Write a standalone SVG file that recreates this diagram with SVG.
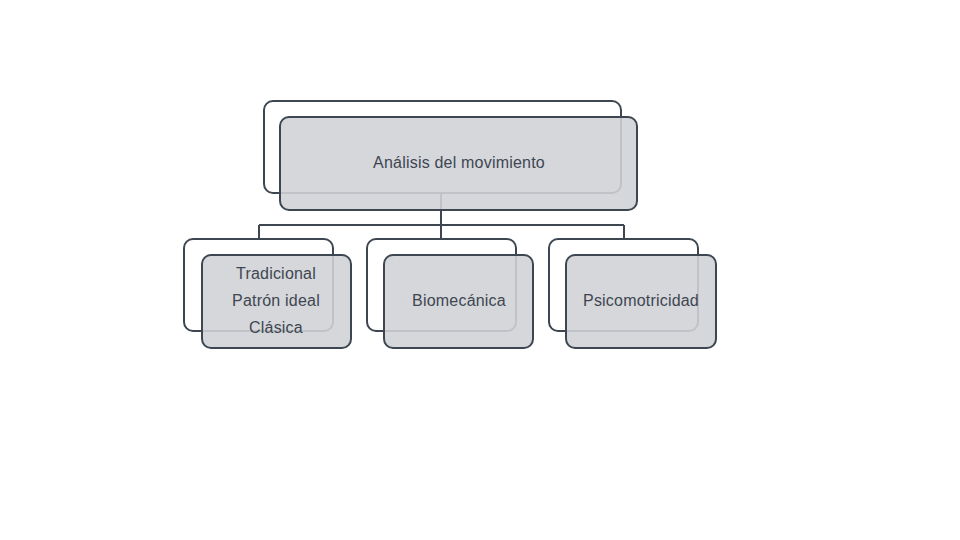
<svg xmlns="http://www.w3.org/2000/svg" width="960" height="540" viewBox="0 0 960 540">
<style>
.back{fill:#ffffff;stroke:#3e4652;stroke-width:2}
.front{fill:#d0d2d5;fill-opacity:0.89;stroke:#3e4652;stroke-width:2}
.conn{fill:none;stroke:#3e4652;stroke-width:2}
text{font-family:"Liberation Sans",Arial,sans-serif;font-size:16px;letter-spacing:0.2px;fill:#3e4652;text-anchor:middle}
</style>
<rect width="960" height="540" fill="#ffffff"/>
<g id="connectors">
<path class="conn" d="M441,193 V225 M259,225 H624 M259,225 V239 M441,225 V239 M624,225 V239"/>
</g>
<g id="node-root">
<rect class="back" x="264" y="101" width="357" height="92" rx="9"/>
<rect class="front" x="280" y="117" width="357" height="93" rx="9"/>
<text x="459" y="168">Análisis del movimiento</text>
</g>
<g id="node-tradicional">
<rect class="back" x="184" y="239" width="149" height="92" rx="9"/>
<rect class="front" x="202" y="255" width="149" height="93" rx="9"/>
<text x="276" y="279">Tradicional</text>
<text x="276" y="306">Patrón ideal</text>
<text x="276" y="333">Clásica</text>
</g>
<g id="node-biomecanica">
<rect class="back" x="367" y="239" width="149" height="92" rx="9"/>
<rect class="front" x="384" y="255" width="149" height="93" rx="9"/>
<text x="459" y="306">Biomecánica</text>
</g>
<g id="node-psicomotricidad">
<rect class="back" x="549" y="239" width="149" height="92" rx="9"/>
<rect class="front" x="566" y="255" width="150" height="93" rx="9"/>
<text x="641" y="306">Psicomotricidad</text>
</g>
</svg>
